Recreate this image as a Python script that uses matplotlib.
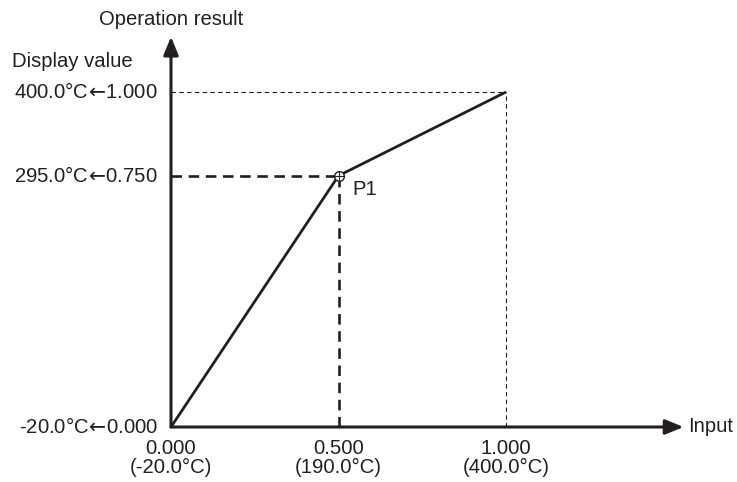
import matplotlib
matplotlib.use("Agg")
import matplotlib.pyplot as plt

plt.rcParams['font.family'] = ['Liberation Sans', 'DejaVu Sans']

# linearization points (input -> operation result)
input_pts = [0.0, 0.5, 1.0]
output_pts = [0.0, 0.75, 1.0]

x_ticks = [0.0, 0.5, 1.0]
x_labels = ["0.000\n(-20.0°C)", "0.500\n(190.0°C)", "1.000\n(400.0°C)"]
y_ticks = [0.0, 0.75, 1.0]
y_labels = [r"-20.0°C$\!\leftarrow\!$0.000", r"295.0°C$\!\leftarrow\!$0.750",
            r"400.0°C$\!\leftarrow\!$1.000"]

p1 = (0.5, 0.75)
full = (1.0, 1.0)

W, H = 737, 482
fig = plt.figure(figsize=(W / 100, H / 100), dpi=100)
# axes box so that [0,1] spans the drawn region
ax = fig.add_axes([171 / W, (H - 427) / H, 335 / W, 335 / H])
ax.set_xlim(0, 1)
ax.set_ylim(0, 1)
ax.axis("off")

fs = 14.6
col = "#231f20"

# guide lines
ax.plot([0, p1[0]], [p1[1], p1[1]], ls=(0, (4, 2.5)), lw=1.9, color=col, clip_on=False)
ax.plot([p1[0], p1[0]], [0, p1[1]], ls=(0, (4, 2.5)), lw=1.9, color=col, clip_on=False)
ax.plot([0, full[0]], [full[1], full[1]], ls=(0, (4, 3)), lw=0.8, color=col, clip_on=False)
ax.plot([full[0], full[0]], [0, full[1]], ls=(0, (4, 3)), lw=0.8, color=col, clip_on=False)

# main curve
ax.plot(input_pts, output_pts, lw=2.0, color=col, clip_on=False, solid_capstyle="butt")

# P1 marker
ax.plot([p1[0]], [p1[1]], marker="o", ms=7, mfc="white", mec=col, mew=1.0, clip_on=False)
ax.plot([p1[0]], [p1[1]], marker="+", ms=7, mec=col, mew=0.8, clip_on=False)
ax.text(p1[0] + 0.04, p1[1] - 0.04, "P1", fontsize=fs, color=col, va="center", ha="left")

# axes with arrows
ax.annotate("", xy=(1.53, 0), xytext=(0, 0), xycoords="data",
            arrowprops=dict(arrowstyle="-|>,head_length=1.1,head_width=0.45", lw=2.2, color=col,
                            shrinkA=0, shrinkB=0), annotation_clip=False)
ax.annotate("", xy=(0, 1.165), xytext=(0, 0), xycoords="data",
            arrowprops=dict(arrowstyle="-|>,head_length=1.1,head_width=0.45", lw=2.2, color=col,
                            shrinkA=0, shrinkB=0), annotation_clip=False)

# tick labels
for x, lab in zip(x_ticks, x_labels):
    ax.text(x, -0.037, lab, fontsize=fs, color=col, ha="center", va="top", linespacing=1.0)
for y, lab in zip(y_ticks, y_labels):
    ax.text(-0.04, y, lab, fontsize=fs, color=col, ha="right", va="center")

ax.text(1.545, 0, "Input", fontsize=fs, color=col, ha="left", va="center")
ax.text(0.0, 1.215, "Operation result", fontsize=fs, color=col, ha="center", va="center")
ax.text(-0.475, 1.09, "Display value", fontsize=fs, color=col, ha="left", va="center")

fig.savefig("out.png", dpi=100)
